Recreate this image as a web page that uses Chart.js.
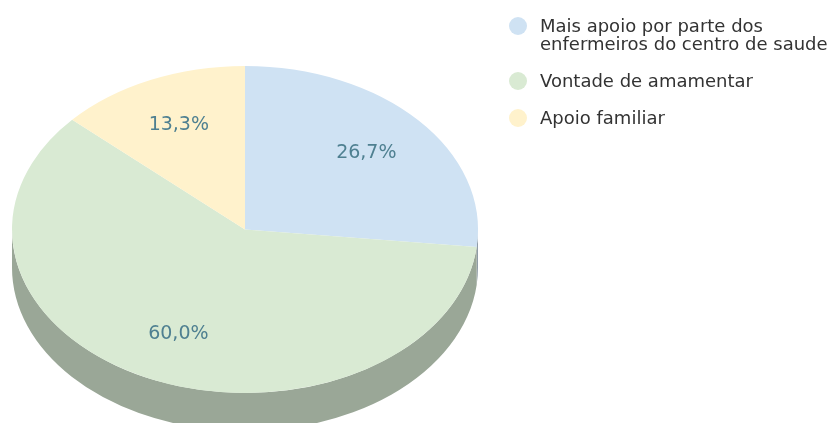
<!DOCTYPE html>
<html>
<head>
<meta charset="utf-8">
<script src="https://cdn.jsdelivr.net/npm/chart.js@4/dist/chart.umd.min.js"></script>
<style>
  html, body { margin: 0; padding: 0; background: #fff; }
  #wrap { width: 838px; height: 423px; }
</style>
</head>
<body>
<div id="wrap"><canvas id="pie" width="838" height="423"></canvas></div>
<script>
// Motivos – shares of answers, in percent
const CATEGORIES = [
  ['Mais apoio por parte dos', 'enfermeiros do centro de saude'],
  'Vontade de amamentar',
  'Apoio familiar'
];
const SHARES = [26.7, 60.0, 13.3];
const TOP_COLORS = ['#cfe2f3', '#d9ead3', '#fff2cc'];
const SIDE_COLORS = ['#8f9ca6', '#9aa797', '#b0a98c'];

// where the tilted disc sits on the canvas
const DISC = { cx: 245, cy: 229.5, rx: 233, ry: 163.5, depth: 38 };
const LEGEND = { dotX: 518, textX: 540, firstBaseline: 32, lineHeight: 18, itemGap: 37 };

const fmtPct = v => v.toFixed(1).replace('.', ',') + '%';

// Squash the round pie into an ellipse and put a rim under its front half.
const tiltedPie = {
  id: 'tiltedPie',
  beforeDatasetsDraw(chart) {
    const arcs = chart.getDatasetMeta(0).data;
    if (!arcs.length) return;
    const ctx = chart.ctx;
    const { x, y, outerRadius: r } = arcs[0].getProps(['x', 'y', 'outerRadius'], true);
    ctx.save();
    ctx.translate(DISC.cx, DISC.cy);
    ctx.scale(DISC.rx / r, DISC.ry / r);
    ctx.translate(-x, -y);
    const dd = DISC.depth * r / DISC.ry;
    arcs.forEach((arc, i) => {
      const p = arc.getProps(['startAngle', 'endAngle'], true);
      const s = Math.max(p.startAngle, 0), e = Math.min(p.endAngle, Math.PI);
      if (e <= s) return;
      ctx.beginPath();
      ctx.arc(x, y + dd, r, s, e);
      ctx.arc(x, y, r, e, s, true);
      ctx.closePath();
      ctx.fillStyle = SIDE_COLORS[i];
      ctx.fill();
    });
  },
  afterDatasetsDraw(chart) {
    if (chart.getDatasetMeta(0).data.length) chart.ctx.restore();
  },
  afterDraw(chart) {
    const ctx = chart.ctx;
    const arcs = chart.getDatasetMeta(0).data;

    // value labels, placed on the ellipse at 70% of the radius
    ctx.save();
    ctx.font = '19px "DejaVu Sans"';
    ctx.fillStyle = '#4f8091';
    ctx.textAlign = 'center';
    ctx.textBaseline = 'middle';
    arcs.forEach((arc, i) => {
      const p = arc.getProps(['startAngle', 'endAngle'], true);
      const mid = (p.startAngle + p.endAngle) / 2;
      const lx = DISC.cx + DISC.rx * 0.7 * Math.cos(mid);
      const ly = DISC.cy + DISC.ry * 0.7 * Math.sin(mid);
      ctx.fillText(fmtPct(chart.data.datasets[0].data[i]), lx, ly);
    });
    ctx.restore();

    // legend on the right
    ctx.save();
    ctx.font = '18px "DejaVu Sans"';
    ctx.textAlign = 'left';
    ctx.textBaseline = 'alphabetic';
    let base = LEGEND.firstBaseline;
    chart.data.labels.forEach((label, i) => {
      const lines = Array.isArray(label) ? label : [label];
      ctx.fillStyle = TOP_COLORS[i];
      ctx.beginPath();
      ctx.arc(LEGEND.dotX, base - 6, 9, 0, Math.PI * 2);
      ctx.fill();
      ctx.fillStyle = '#333333';
      lines.forEach((ln, j) => ctx.fillText(ln, LEGEND.textX, base + j * LEGEND.lineHeight));
      base += (lines.length - 1) * LEGEND.lineHeight + LEGEND.itemGap;
    });
    ctx.restore();
  }
};

new Chart(document.getElementById('pie'), {
  type: 'pie',
  data: {
    labels: CATEGORIES,
    datasets: [{
      data: SHARES,
      backgroundColor: TOP_COLORS,
      borderWidth: 0,
      clip: false
    }]
  },
  options: {
    responsive: false,
    animation: false,
    events: [],
    layout: { padding: { right: 415 } },
    plugins: {
      legend: { display: false },
      tooltip: { enabled: false }
    }
  },
  plugins: [tiltedPie]
});
</script>
</body>
</html>
